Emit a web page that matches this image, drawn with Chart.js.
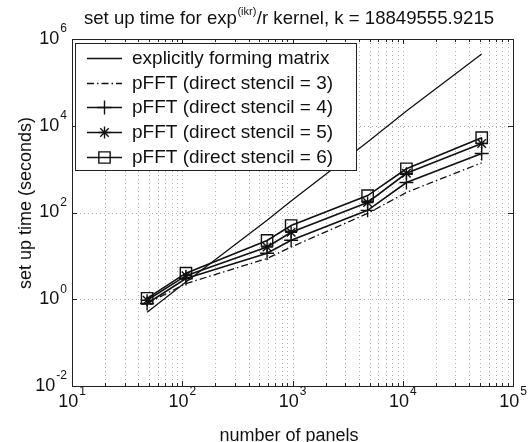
<!DOCTYPE html>
<html><head><meta charset="utf-8">
<script src="https://cdn.jsdelivr.net/npm/chart.js@4/dist/chart.umd.min.js"></script>
<style>html,body{margin:0;padding:0;background:#fff}#wrap{width:531px;height:442px;position:relative}</style>
</head><body><div id="wrap"><canvas id="c" width="531" height="442"></canvas></div>
<script>
// ---- data ----
const panels     = [48, 108, 588, 972, 4800, 10800, 52000];
const matrixTime = [0.5, 2.5, 66, 185, 4200, 22000, 450000];
const stencil3   = [0.8, 2.3, 8.7, 16, 95, 290, 1400];
const stencil4   = [0.8, 3.0, 11.5, 23, 112, 490, 2300];
const stencil5   = [0.95, 3.5, 16, 35, 170, 800, 3900];
const stencil6   = [1.05, 4.0, 22.7, 50, 245, 1020, 5300];
const seriesNames = ['explicitly forming matrix','pFFT (direct stencil = 3)','pFFT (direct stencil = 4)','pFFT (direct stencil = 5)','pFFT (direct stencil = 6)'];
const xTickExps = [1, 2, 3, 4, 5];
const yTickExps = [-2, 0, 2, 4, 6];
const titleMain = 'set up time for exp';
const titleSup = '(ikr)';
const titleRest = '/r kernel, k = 18849555.9215';
const xTitle = 'number of panels';
const yTitle = 'set up time (seconds)';

const FONT = '"Liberation Sans", Arial, Helvetica, sans-serif';
const pts = arr => panels.map((p,i)=>({x:p, y:arr[i]}));

const styles = [
  {data:matrixTime, dash:[], point:false, radius:0, width:1.3},
  {data:stencil3, dash:[7,3,1.5,3], point:false, radius:0, width:1.3},
  {data:stencil4, dash:[], point:'cross', radius:7, width:1.6},
  {data:stencil5, dash:[], point:'star', radius:6, width:1.6},
  {data:stencil6, dash:[], point:'rect', radius:8, width:1.6},
];

const datasets = styles.map((s,i)=>({
  label: seriesNames[i],
  data: pts(s.data),
  showLine: true,
  borderColor: '#111',
  backgroundColor: 'rgba(0,0,0,0)',
  borderWidth: s.width,
  borderDash: s.dash,
  pointStyle: s.point || 'circle',
  pointRadius: s.radius,
  pointBorderWidth: 1.4,
  pointBorderColor: '#111',
  pointBackgroundColor: 'rgba(0,0,0,0)',
  tension: 0,
  order: 5-i
}));

function sup10(ctx, exp, x, y, align, mainSize, supSize){
  ctx.font = mainSize+'px '+FONT;
  const w1 = ctx.measureText('10').width;
  ctx.font = supSize+'px '+FONT;
  const w2 = ctx.measureText(String(exp)).width;
  const tw = w1 + w2 + 1;
  let x0 = align==='center' ? x - tw/2 : x - tw;
  ctx.textBaseline = 'middle'; ctx.textAlign='left';
  ctx.font = mainSize+'px '+FONT;
  ctx.fillText('10', x0, y);
  ctx.font = supSize+'px '+FONT;
  ctx.fillText(String(exp), x0 + w1 + 1, y - mainSize*0.55);
}

function marker(ctx, style, r, x, y){
  ctx.save();
  ctx.setLineDash([]);
  ctx.lineWidth = 1.4;
  ctx.strokeStyle = '#111';
  if (Chart.helpers && Chart.helpers.drawPoint){
    ctx.fillStyle = 'rgba(0,0,0,0)';
    Chart.helpers.drawPoint(ctx, {pointStyle: style, radius: r, rotation: 0, borderWidth: 1.4}, x, y);
  }
  ctx.restore();
}

const matlab = {
  id: 'matlab',
  beforeDatasetsDraw(chart){
    const {ctx, chartArea:a, scales:{x, y}} = chart;
    ctx.save();
    ctx.strokeStyle = '#b0b0b0'; ctx.lineWidth = 1; ctx.setLineDash([1,3]);
    for (let e=xTickExps[0]; e<xTickExps[xTickExps.length-1]; e++){
      for (let m=1; m<10; m++){
        const px = Math.round(x.getPixelForValue(m*Math.pow(10,e)))+0.5;
        if (px <= a.left+1) continue;
        ctx.beginPath(); ctx.moveTo(px, a.top); ctx.lineTo(px, a.bottom); ctx.stroke();
      }
    }
    yTickExps.forEach(e=>{
      const py = Math.round(y.getPixelForValue(Math.pow(10,e)))+0.5;
      if (py >= a.bottom-1 || py <= a.top+1) return;
      ctx.beginPath(); ctx.moveTo(a.left, py); ctx.lineTo(a.right, py); ctx.stroke();
    });
    ctx.restore();
  },
  afterDatasetsDraw(chart){
    const {ctx, chartArea:a, scales:{x, y}} = chart;
    ctx.save();
    ctx.setLineDash([]);
    ctx.strokeStyle = '#222'; ctx.lineWidth = 1;
    for (let e=xTickExps[0]; e<=xTickExps[xTickExps.length-1]; e++){
      for (let m=1; m<10; m++){
        if (e===xTickExps[xTickExps.length-1] && m>1) break;
        const px = Math.round(x.getPixelForValue(m*Math.pow(10,e)))+0.5;
        const len = m===1 ? 5 : 3;
        ctx.beginPath();
        ctx.moveTo(px, a.bottom); ctx.lineTo(px, a.bottom-len);
        ctx.moveTo(px, a.top); ctx.lineTo(px, a.top+len);
        ctx.stroke();
      }
    }
    yTickExps.forEach(e=>{
      const py = Math.round(y.getPixelForValue(Math.pow(10,e)))+0.5;
      ctx.beginPath();
      ctx.moveTo(a.left, py); ctx.lineTo(a.left+5, py);
      ctx.moveTo(a.right, py); ctx.lineTo(a.right-5, py);
      ctx.stroke();
    });
    ctx.strokeRect(Math.round(a.left)+0.5, Math.round(a.top)+0.5, Math.round(a.right-a.left), Math.round(a.bottom-a.top));

    // legend
    const lx = 75.5, ly = 43.5, lw = 281, lh = 127;
    ctx.fillStyle = '#fff';
    ctx.fillRect(lx, ly, lw, lh);
    ctx.strokeStyle = '#222';
    ctx.strokeRect(lx, ly, lw, lh);
    const rows = [58, 83, 107, 132, 157];
    styles.forEach((s,i)=>{
      const ry = rows[i];
      ctx.save();
      ctx.strokeStyle = '#111'; ctx.lineWidth = s.width; ctx.setLineDash(s.dash);
      ctx.beginPath(); ctx.moveTo(87, ry+0.5); ctx.lineTo(122, ry+0.5); ctx.stroke();
      ctx.restore();
      if (s.point) marker(ctx, s.point, s.radius, 104.5, ry+0.5);
      ctx.fillStyle = '#111';
      ctx.font = '19px '+FONT; ctx.textBaseline='middle'; ctx.textAlign='left';
      ctx.fillText(seriesNames[i], 132, ry+1);
    });

    ctx.fillStyle = '#111';
    xTickExps.forEach(e=>{
      const px = x.getPixelForValue(Math.pow(10,e));
      sup10(ctx, e, px, 402, 'center', 18, 12);
    });
    yTickExps.forEach(e=>{
      const py = y.getPixelForValue(Math.pow(10,e));
      sup10(ctx, e, 67, py, 'right', 18, 12);
    });
    ctx.font = '18px '+FONT; ctx.textAlign='center'; ctx.textBaseline='top';
    ctx.fillText(xTitle, 289, 427);
    ctx.save();
    ctx.translate(26, 203); ctx.rotate(-Math.PI/2);
    ctx.textBaseline='middle'; ctx.fillText(yTitle, 0, 0);
    ctx.restore();
    ctx.font = '18.6px '+FONT;
    const w1 = ctx.measureText(titleMain).width;
    const w3 = ctx.measureText(titleRest).width;
    ctx.font = '11px '+FONT;
    const w2 = ctx.measureText(titleSup).width;
    const tw = w1+w2+w3+1;
    let tx = 289 - tw/2;
    ctx.textAlign='left'; ctx.textBaseline='alphabetic';
    ctx.font = '18.6px '+FONT; ctx.fillText(titleMain, tx, 24);
    ctx.font = '11px '+FONT; ctx.fillText(titleSup, tx+w1+0.5, 15);
    ctx.font = '18.6px '+FONT; ctx.fillText(titleRest, tx+w1+w2+1, 24);
    ctx.restore();
  }
};

new Chart(document.getElementById('c'), {
  type: 'scatter',
  data: {datasets},
  options: {
    responsive: false,
    devicePixelRatio: 1,
    animation: false,
    layout: {padding: {left: 72, top: 39, right: 18, bottom: 56}},
    plugins: {legend: {display: false}, tooltip: {enabled: false}, title: {display: false}},
    scales: {
      x: {type: 'logarithmic', min: 10, max: 100000,
          ticks: {display: false}, grid: {display: false, drawTicks: false}, border: {display: false}},
      y: {type: 'logarithmic', min: 0.01, max: 1000000,
          ticks: {display: false}, grid: {display: false, drawTicks: false}, border: {display: false}}
    }
  },
  plugins: [matlab]
});
</script>
</body></html>
